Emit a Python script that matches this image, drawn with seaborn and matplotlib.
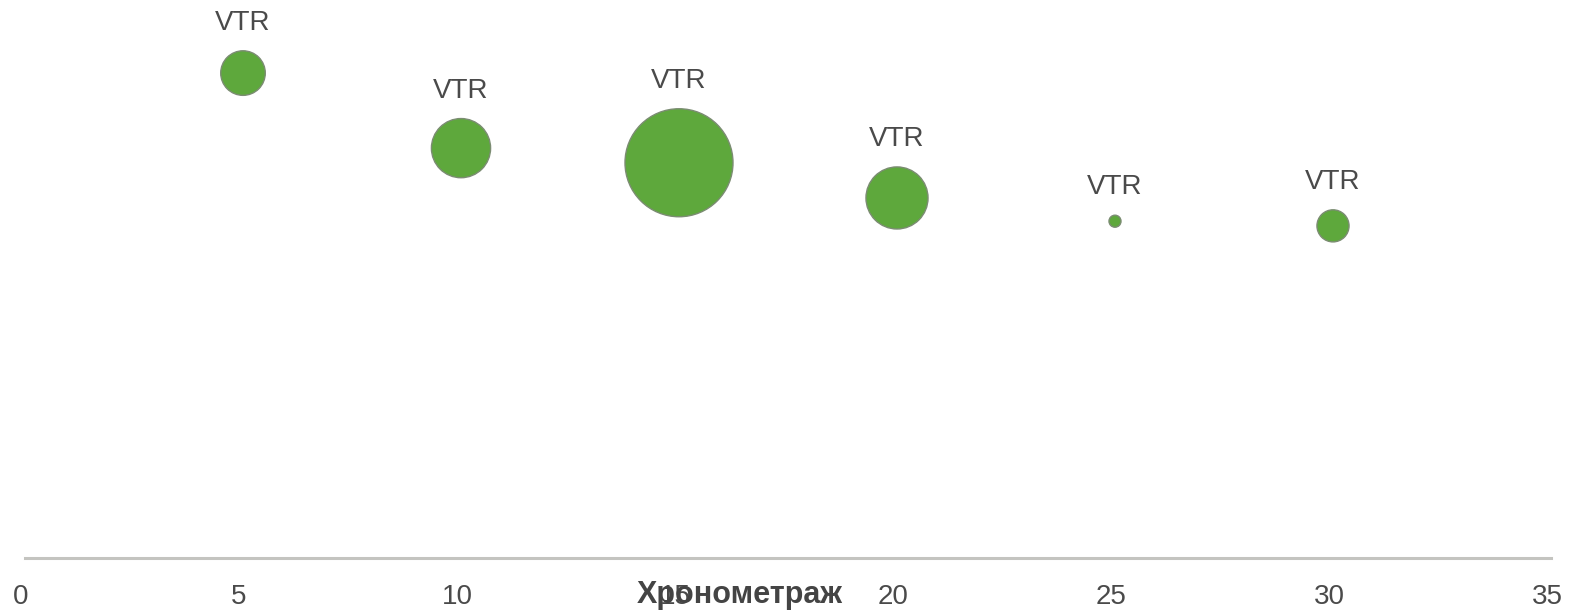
import pandas as pd
import matplotlib.pyplot as plt
import matplotlib.transforms as mtransforms
import seaborn as sns

# Chart data
durations = [5, 10, 15, 20, 25, 30]
vtr = [0.730, 0.617, 0.595, 0.542, 0.507, 0.500]
bubble_size = [17.0, 30.0, 100.0, 33.0, 1.2, 8.8]
labels = ["VTR", "VTR", "VTR", "VTR", "VTR", "VTR"]
x_ticks = [0, 5, 10, 15, 20, 25, 30, 35]

df = pd.DataFrame({"duration": durations, "vtr": vtr, "size": bubble_size, "label": labels})

sns.set_style("white")
plt.rcParams["font.family"] = ["Liberation Sans", "DejaVu Sans"]

fig = plt.figure(figsize=(15.72, 6.10), dpi=100)
ax = fig.add_axes([25 / 1572, 52 / 610, 1526 / 1572, 558 / 610])

size_range = (75, 6048)
sns.scatterplot(data=df, x="duration", y="vtr", size="size", sizes=size_range,
                color="#5ea83c", edgecolor="#7b8c72", linewidth=1.0, alpha=1.0,
                legend=False, ax=ax, zorder=3)

# labels above each bubble, offset by bubble radius
vmin, vmax = min(bubble_size), max(bubble_size)
for _, row in df.iterrows():
    area = size_range[0] + (row["size"] - vmin) / (vmax - vmin) * (size_range[1] - size_range[0])
    offset = area ** 0.5 / 2 + 20
    ax.annotate(row["label"], (row["duration"], row["vtr"]), xytext=(0, offset),
                textcoords="offset points", ha="center", va="center",
                fontsize=20, color="#4a4a4a")

ax.set_xlim(0, 35)
ax.set_ylim(0, 0.84)
ax.set_xticks(x_ticks)
ax.set_xticklabels([str(t) for t in x_ticks])
ax.set_yticks([])
ax.set_ylabel("")
ax.tick_params(axis="x", length=0, pad=19, labelsize=20, labelcolor="#4a4a4a")

# tick labels sit a little left of the tick positions in the original
shift = mtransforms.ScaledTranslation(-4 / 100, 0, fig.dpi_scale_trans)
for lbl in ax.get_xticklabels():
    lbl.set_transform(lbl.get_transform() + shift)

for side in ["top", "right", "left"]:
    ax.spines[side].set_visible(False)
ax.spines["bottom"].set_color("#c4c4c0")
ax.spines["bottom"].set_linewidth(2.2)

ax.set_xlabel("Хронометраж", fontsize=22, fontweight="bold", color="#444444",
              va="center", ha="center")
ax.xaxis.set_label_coords(0.4685, -0.0655)

fig.savefig("out.png", dpi=100)
